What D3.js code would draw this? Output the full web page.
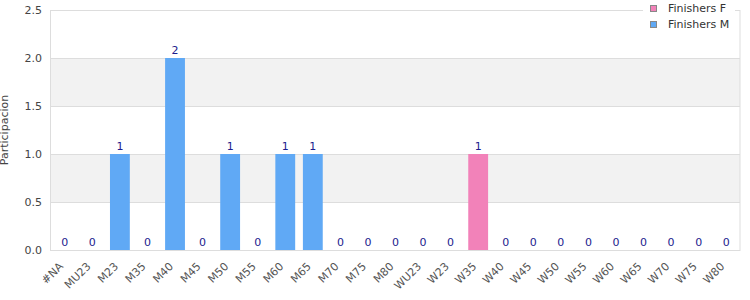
<!DOCTYPE html>
<html>
<head>
<meta charset="utf-8">
<script src="https://d3js.org/d3.v7.min.js"></script>
<style>
  body { margin: 0; background: #fff; }
  svg text { font-family: "DejaVu Sans", sans-serif; }
</style>
</head>
<body>
<div id="chart"></div>
<script>
// categories on the x axis
var categories = ["#NA", "MU23", "M23", "M35", "M40", "M45", "M50", "M55", "M60", "M65",
  "M70", "M75", "M80", "WU23", "W23", "W35", "W40", "W45", "W50", "W55",
  "W60", "W65", "W70", "W75", "W80"];

// finishers per category (null = category not in that series)
var finishersF = [null, null, null, null, null, null, null, null, null, null,
  null, null, null, 0, 0, 1, 0, 0, 0, 0, 0, 0, 0, 0, 0];
var finishersM = [0, 0, 1, 0, 2, 0, 1, 0, 1, 1, 0, 0, 0,
  null, null, null, null, null, null, null, null, null, null, null, null];

var yTicks = [0, 0.5, 1, 1.5, 2, 2.5];
var seriesNames = ["Finishers F", "Finishers M"];
var colors = ["#f282b9", "#60a9f5"];

var width = 750, height = 300;
var margin = {top: 10, right: 10, bottom: 50, left: 51};
var w = width - margin.left - margin.right,
    h = height - margin.top - margin.bottom;

var svg = d3.select("#chart").append("svg")
  .attr("width", width).attr("height", height);
var g = svg.append("g")
  .attr("transform", "translate(" + margin.left + "," + margin.top + ")");

var x = d3.scaleBand().domain(categories).range([0, w]).paddingInner(0.28).paddingOuter(0.14);
var y = d3.scaleLinear().domain([0, 2.5]).range([h, 0]);

// alternating bands
for (var i = 0; i < yTicks.length - 1; i++) {
  if (i % 2 == 1) {
    g.append("rect")
      .attr("x", 0).attr("width", w)
      .attr("y", y(yTicks[i + 1])).attr("height", y(yTicks[i]) - y(yTicks[i + 1]))
      .attr("fill", "#f2f2f2");
  }
}

// grid lines
g.selectAll(".grid").data(yTicks).enter().append("line")
  .attr("x1", 0).attr("x2", w)
  .attr("y1", function(d) { return Math.round(y(d)) + 0.5; })
  .attr("y2", function(d) { return Math.round(y(d)) + 0.5; })
  .attr("stroke", "#dddddd");

// frame
g.append("rect").attr("x", -0.5).attr("y", 0.5).attr("width", w + 0.5).attr("height", h)
  .attr("fill", "none").attr("stroke", "#dddddd");

// bars
var all = [finishersF, finishersM];
all.forEach(function(vals, si) {
  var data = categories.map(function(c, j) { return {cat: c, v: vals[j]}; })
    .filter(function(d) { return d.v !== null; });
  g.selectAll(".bar" + si).data(data).enter().append("rect")
    .attr("x", function(d) { return x(d.cat); })
    .attr("width", x.bandwidth())
    .attr("y", function(d) { return y(d.v); })
    .attr("height", function(d) { return h - y(d.v); })
    .attr("fill", colors[si]);
  g.selectAll(".lab" + si).data(data).enter().append("text")
    .attr("x", function(d) { return x(d.cat) + x.bandwidth() / 2; })
    .attr("y", function(d) { return y(d.v) - 4; })
    .attr("text-anchor", "middle")
    .attr("font-size", "11px")
    .attr("fill", "#1c1c8e")
    .text(function(d) { return d.v; });
});

// y axis
var yAxis = g.append("g")
  .call(d3.axisLeft(y).tickValues(yTicks).tickFormat(d3.format(".1f")).tickSize(0).tickPadding(9));
yAxis.select(".domain").remove();
yAxis.selectAll("text").attr("font-size", "11px").attr("fill", "#444");

// x axis
var xAxis = g.append("g")
  .attr("transform", "translate(0," + h + ")")
  .call(d3.axisBottom(x).tickSize(0));
xAxis.select(".domain").remove();
xAxis.selectAll("text")
  .attr("font-size", "11px").attr("fill", "#555")
  .attr("text-anchor", "end")
  .attr("x", 0).attr("y", 0).attr("dy", 0)
  .attr("transform", "translate(-1,17) rotate(-45)");

// y axis title
svg.append("text")
  .attr("transform", "translate(8," + (margin.top + h / 2) + ") rotate(-90)")
  .attr("text-anchor", "middle")
  .attr("font-size", "11px").attr("fill", "#444")
  .text("Participacion");

// legend
var lg = svg.append("g").attr("transform", "translate(643,0)");
lg.append("rect").attr("x", 0).attr("y", 0).attr("width", 92).attr("height", 34).attr("fill", "#fff");
seriesNames.forEach(function(n, i) {
  lg.append("rect").attr("x", 7.5).attr("y", 5.5 + i * 16).attr("width", 6).attr("height", 6)
    .attr("fill", colors[i]).attr("stroke", "#888");
  lg.append("text").attr("x", 25).attr("y", 12 + i * 16)
    .attr("font-size", "11px").attr("fill", "#333").text(n);
});
</script>
</body>
</html>
